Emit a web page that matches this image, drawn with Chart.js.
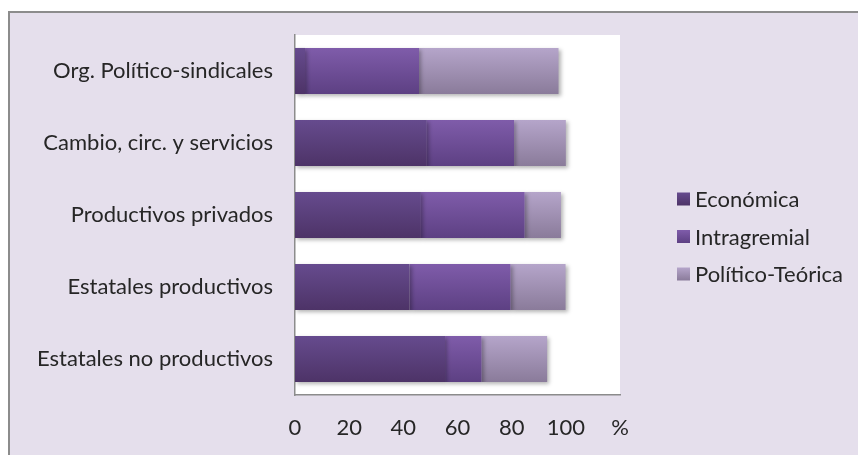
<!DOCTYPE html>
<html>
<head>
<meta charset="utf-8">
<title>Orientación por tipo de organización</title>
<script src="https://cdn.jsdelivr.net/npm/chart.js@4.4.1/dist/chart.umd.min.js"></script>
<style>
  html, body { margin: 0; padding: 0; background: #fff; }
  #wrap { width: 858px; height: 455px; }
</style>
</head>
<body>
<div id="wrap"><canvas id="chart" width="858" height="455"></canvas></div>
<script>
// categories top to bottom, values in %
const categories = [
  'Org. Político-sindicales',
  'Cambio, circ. y servicios',
  'Productivos privados',
  'Estatales productivos',
  'Estatales no productivos'
];
const economica = [3.7, 48.7, 46.5, 42.3, 55.4];
const intragremial = [42.1, 32.2, 38.3, 37.3, 13.5];
const politicoTeorica = [51.5, 19.1, 13.4, 20.3, 24.2];
const xTickLabels = ['0', '20', '40', '60', '80', '100', '%'];

const FONT = 'Lato';
const FONT_SIZE = 22;
const TEXT = '#262626';
const AXIS = '#8c8c8c';
const BAR_PCT = 0.64;

// top / bottom shades for each series
const shades = {
  eco: ['#664b8e', '#4d3367'],
  intra: ['#7f5caa', '#5d4083'],
  pol: ['#b5a5ca', '#8a7b9a']
};

// vertical gradient per bar, placed from the category scale
function barFill(pair) {
  return function (ctx) {
    if (ctx.type !== 'data') return pair[0];
    const chart = ctx.chart;
    const y = chart.scales.y;
    if (!y) return pair[0];
    const center = y.getPixelForValue(ctx.dataIndex);
    const half = Math.abs(y.getPixelForValue(1) - y.getPixelForValue(0)) * BAR_PCT / 2;
    if (!isFinite(center) || !isFinite(half) || half === 0) return pair[0];
    const g = chart.ctx.createLinearGradient(0, center - half, 0, center + half);
    g.addColorStop(0, pair[0]);
    g.addColorStop(1, pair[1]);
    return g;
  };
}

// lavender frame and white plot area
const frame = {
  id: 'frame',
  beforeDraw(chart) {
    const { ctx, chartArea: a, width, height } = chart;
    ctx.save();
    ctx.fillStyle = '#fff';
    ctx.fillRect(0, 0, width, height);
    ctx.fillStyle = '#e5dfec';
    ctx.fillRect(9, 12, width, height);
    ctx.strokeStyle = AXIS;
    ctx.lineWidth = 2;
    ctx.beginPath();
    ctx.moveTo(9, height);
    ctx.lineTo(9, 12);
    ctx.lineTo(width, 12);
    ctx.stroke();
    ctx.fillStyle = '#fff';
    ctx.fillRect(a.left, a.top, a.right - a.left, a.bottom - a.top);
    ctx.restore();
  }
};

// soft drop shadow under the bars
const barShadow = {
  id: 'barShadow',
  beforeDatasetsDraw(chart) {
    const c = chart.ctx;
    c.save();
    c.shadowColor = 'rgba(0,0,0,0.3)';
    c.shadowBlur = 4;
    c.shadowOffsetX = 2;
    c.shadowOffsetY = 2;
  },
  afterDatasetsDraw(chart) {
    chart.ctx.restore();
  }
};

// legend on the right side
const sideLegend = {
  id: 'sideLegend',
  afterDraw(chart) {
    const c = chart.ctx;
    c.save();
    c.font = FONT_SIZE + 'px ' + FONT;
    c.textBaseline = 'middle';
    chart.data.datasets.forEach((ds, i) => {
      const y = 199 + i * 37.5;
      const g = c.createLinearGradient(0, y - 6.5, 0, y + 6.5);
      g.addColorStop(0, ds.shade[0]);
      g.addColorStop(1, ds.shade[1]);
      c.fillStyle = g;
      c.fillRect(677, y - 6.5, 13, 13);
      c.fillStyle = TEXT;
      c.fillText(ds.label, 695, y + 1);
    });
    c.restore();
  }
};

const ctx = document.getElementById('chart').getContext('2d');
new Chart(ctx, {
  type: 'bar',
  data: {
    labels: categories,
    datasets: [
      { label: 'Económica', data: economica, shade: shades.eco, backgroundColor: barFill(shades.eco) },
      { label: 'Intragremial', data: intragremial, shade: shades.intra, backgroundColor: barFill(shades.intra) },
      { label: 'Político-Teórica', data: politicoTeorica, shade: shades.pol, backgroundColor: barFill(shades.pol) }
    ]
  },
  options: {
    indexAxis: 'y',
    responsive: false,
    animation: false,
    barPercentage: BAR_PCT,
    categoryPercentage: 1,
    layout: { padding: { left: 0, top: 35, right: 238, bottom: 14 } },
    scales: {
      x: {
        stacked: true,
        min: 0,
        max: 120,
        grid: { display: false },
        border: { display: true, color: AXIS, width: 1.5 },
        ticks: {
          stepSize: 20,
          padding: 12,
          maxRotation: 0,
          color: TEXT,
          font: { family: FONT, size: FONT_SIZE },
          callback: (v, i) => xTickLabels[i]
        },
        afterFit: s => { s.height = 46; }
      },
      y: {
        stacked: true,
        grid: { display: false },
        border: { display: true, color: AXIS, width: 1.5 },
        ticks: {
          padding: 14,
          color: TEXT,
          font: { family: FONT, size: FONT_SIZE }
        },
        afterFit: s => { s.width = 295; }
      }
    },
    plugins: {
      legend: { display: false },
      tooltip: { enabled: false }
    }
  },
  plugins: [frame, barShadow, sideLegend]
});
</script>
</body>
</html>
